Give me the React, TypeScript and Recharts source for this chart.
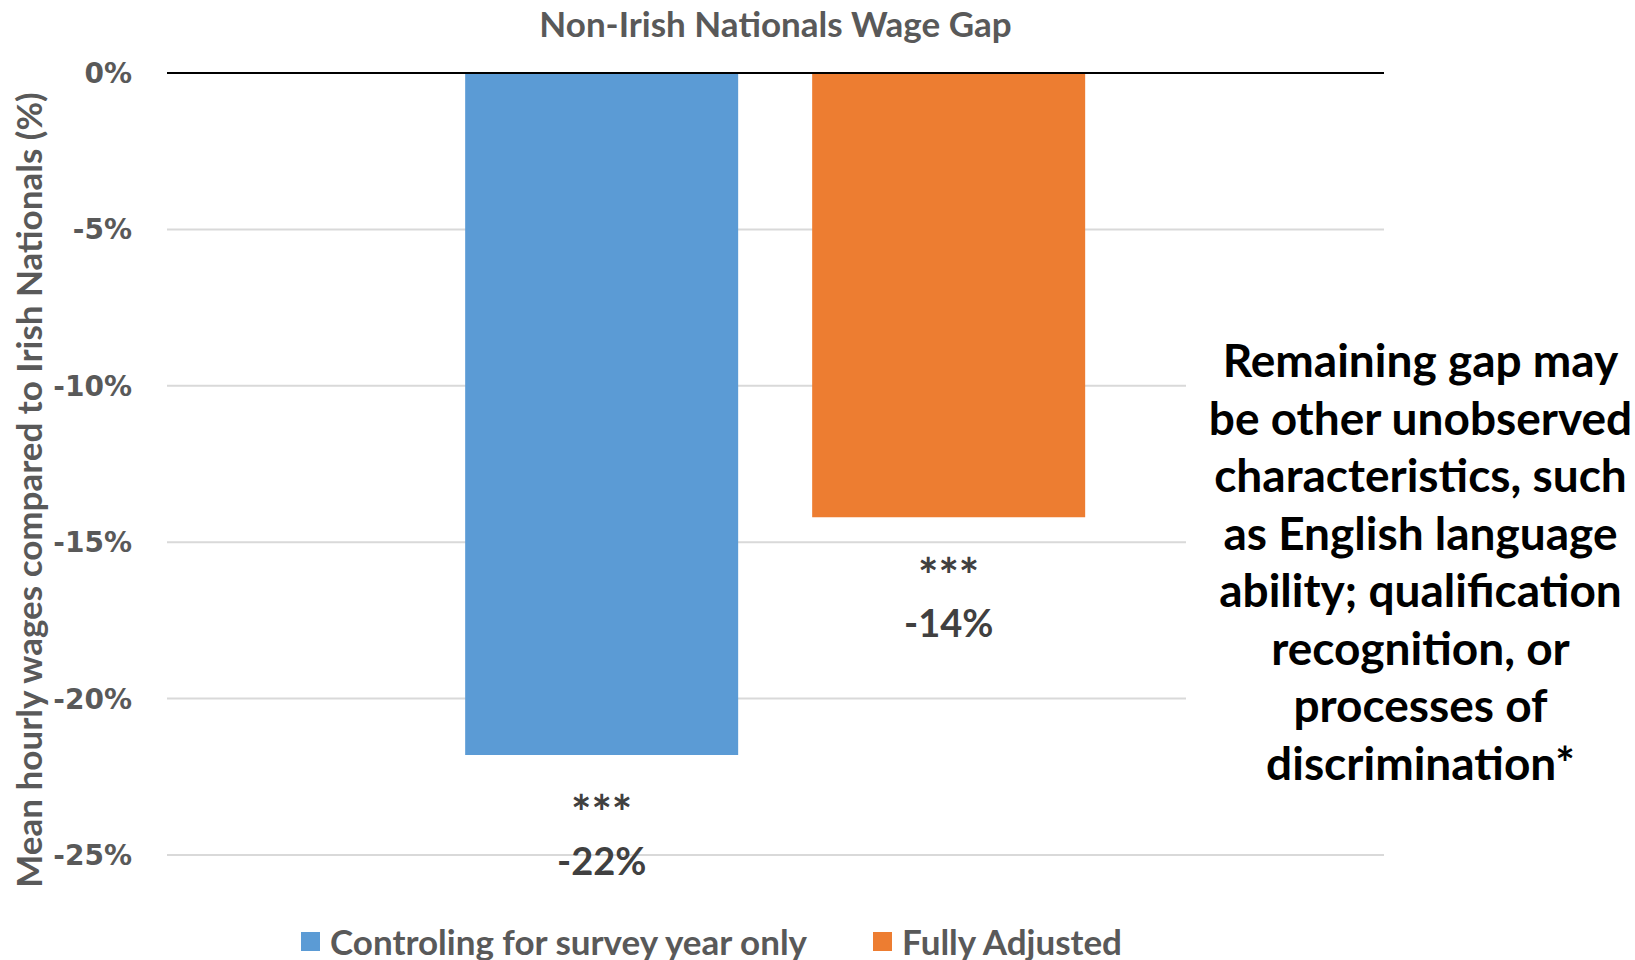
import React from "react"
import { BarChart, Bar, XAxis, YAxis, CartesianGrid, ReferenceLine, Legend, LabelList } from "recharts"

const categories = ["Non-Irish Nationals"]
const seriesNames = ["Controling for survey year only", "Fully Adjusted"]
const surveyYearOnly = [-21.8]
const fullyAdjusted = [-14.2]
const significance = "***"
const yTicks = [0, -5, -10, -15, -20, -25]
const noteLines = [
  "Remaining gap may",
  "be other unobserved",
  "characteristics, such",
  "as English language",
  "ability; qualification",
  "recognition, or",
  "processes of",
  "discrimination*",
]

const COLORS = ["#5B9BD5", "#ED7D31"]

const data = categories.map((name, i) => ({
  name,
  survey: surveyYearOnly[i],
  adjusted: fullyAdjusted[i],
}))

const ValueLabel = (props: any) => {
  const { x, y, width, height, value } = props
  const cx = x + width / 2
  const bottom = Math.max(y, y + height)
  return (
    <g>
      <text x={cx} y={bottom + 57} textAnchor="middle" dominantBaseline="central"
        style={{ fontFamily: "Lato", fontWeight: 700, fontSize: 48, fill: "#404040" }}>
        {significance}
      </text>
      <text x={cx} y={bottom + 105} textAnchor="middle" dominantBaseline="central"
        style={{ fontFamily: "Lato", fontWeight: 700, fontSize: 38, fill: "#404040" }}>
        {`${Math.round(value)}%`}
      </text>
    </g>
  )
}

const renderLegend = (props: any) => {
  const { payload } = props
  return (
    <div style={{ display: "flex", alignItems: "center", fontFamily: "Lato", fontWeight: 700, fontSize: 35, color: "#595959" }}>
      {payload.map((entry: any, i: number) => (
        <div key={`legend-${i}`} style={{ display: "flex", alignItems: "center", marginRight: 66 }}>
          <div style={{ width: 19, height: 19, background: entry.color, marginRight: 10 }} />
          <span>{entry.value}</span>
        </div>
      ))}
    </div>
  )
}

const YLabel = () => (
  <text x={28} y={490} transform="rotate(-90, 28, 490)" textAnchor="middle" dominantBaseline="central"
    style={{ fontFamily: "Lato", fontWeight: 700, fontSize: 35, fill: "#595959" }}>
    Mean hourly wages compared to Irish Nationals (%)
  </text>
)

export default function App() {
  return (
    <div style={{ position: "relative", width: 1635, height: 960, background: "#fff" }}>
      <style>{`body { margin: 0; }`}</style>
      <div style={{ position: "absolute", left: 167, width: 1217, top: 0, textAlign: "center", fontFamily: "Lato", fontWeight: 700, fontSize: 35, color: "#595959", lineHeight: "46px" }}>
        Non-Irish Nationals Wage Gap
      </div>
      <BarChart width={1635} height={960} data={data} margin={{ top: 73, right: 251, bottom: 105, left: 0 }}
        barCategoryGap="24.5%" barGap={74}>
        <CartesianGrid vertical={false} stroke="#D9D9D9" strokeWidth={2} />
        <XAxis dataKey="name" hide />
        <YAxis width={167} domain={[-25, 0]} ticks={yTicks} axisLine={false} tickLine={false} tickSize={0} tickMargin={35}
          tickFormatter={(v: number) => `${v}%`}
          tick={{ fontFamily: "DejaVu Sans", fontWeight: 700, fontSize: 28, fill: "#595959" }}
          label={<YLabel />} />
        <ReferenceLine y={0} stroke="#000" strokeWidth={2} />
        <Bar dataKey="survey" name={seriesNames[0]} fill={COLORS[0]} isAnimationActive={false}>
          <LabelList dataKey="survey" content={<ValueLabel />} />
        </Bar>
        <Bar dataKey="adjusted" name={seriesNames[1]} fill={COLORS[1]} isAnimationActive={false}>
          <LabelList dataKey="adjusted" content={<ValueLabel />} />
        </Bar>
        <Legend layout="horizontal" verticalAlign="middle" align="center" content={renderLegend}
          wrapperStyle={{ left: 301, top: 920, width: "auto", height: 44 }} />
      </BarChart>
      <div style={{ position: "absolute", left: 1186, top: 331, width: 449, paddingLeft: 20, boxSizing: "border-box", background: "#fff", textAlign: "center", fontFamily: "Lato", fontWeight: 700, fontSize: 46, lineHeight: "57.5px", color: "#000" }}>
        {noteLines.map((line, i) => (
          <div key={`note-${i}`} style={{ whiteSpace: "nowrap" }}>{line}</div>
        ))}
      </div>
    </div>
  )
}
